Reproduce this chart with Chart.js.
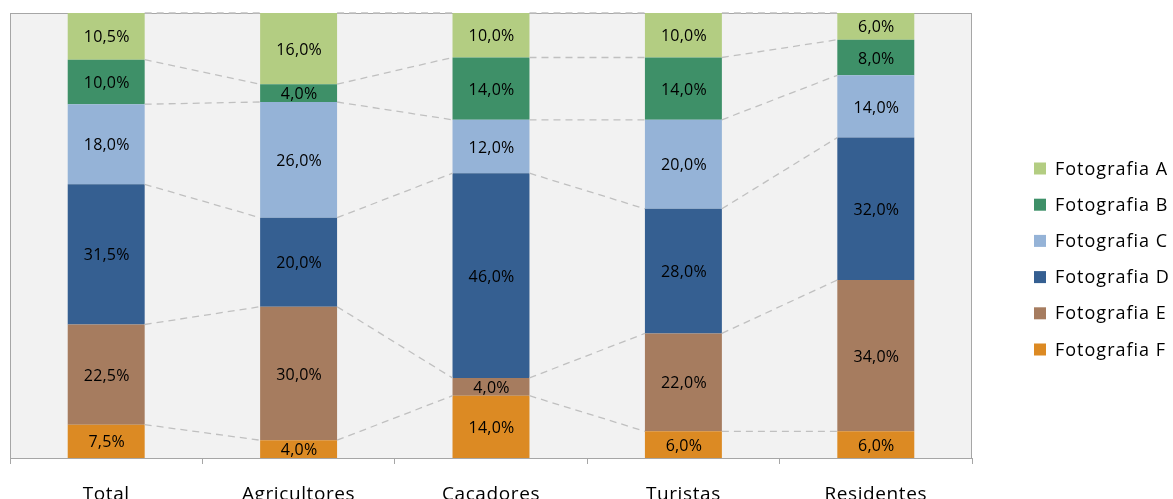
<!DOCTYPE html>
<html>
<head>
<meta charset="utf-8">
<script src="https://cdn.jsdelivr.net/npm/chart.js@4/dist/chart.umd.min.js"></script>
<style>
  html, body { margin: 0; padding: 0; background: #fff; }
  #wrap { width: 1173px; height: 499px; }
</style>
</head>
<body>
<div id="wrap"><canvas id="fotoChart"></canvas></div>
<script>
const categorias = ['Total', 'Agricultores', 'Caçadores', 'Turistas', 'Residentes'];
const fotoA = [10.5, 16, 10, 10, 6];
const fotoB = [10, 4, 14, 14, 8];
const fotoC = [18, 26, 12, 20, 14];
const fotoD = [31.5, 20, 46, 28, 32];
const fotoE = [22.5, 30, 4, 22, 34];
const fotoF = [7.5, 4, 14, 6, 6];

const FONT = "'Open Sans', sans-serif";

// stacked bottom to top: F, E, D, C, B, A
const series = [
  { label: 'Fotografia F', data: fotoF, color: '#dc8a23' },
  { label: 'Fotografia E', data: fotoE, color: '#a67c5f' },
  { label: 'Fotografia D', data: fotoD, color: '#355f91' },
  { label: 'Fotografia C', data: fotoC, color: '#95b3d7' },
  { label: 'Fotografia B', data: fotoB, color: '#3e9068' },
  { label: 'Fotografia A', data: fotoA, color: '#b3cd82' }
];

const fundo = {
  id: 'fundo',
  beforeDraw(chart) {
    const { ctx, chartArea: a } = chart;
    ctx.save();
    ctx.fillStyle = '#f2f2f2';
    ctx.fillRect(a.left, a.top, a.right - a.left, a.bottom - a.top);
    ctx.strokeStyle = '#a6a6a6';
    ctx.lineWidth = 1;
    ctx.strokeRect(a.left + 0.5, a.top + 0.5, a.right - a.left - 1, a.bottom - a.top);
    ctx.restore();
    ctx.letterSpacing = '0.6px';
  },
  beforeDatasetsDraw(chart) {
    chart.ctx.letterSpacing = '0px';
  }
};

const ligacoes = {
  id: 'ligacoes',
  afterDatasetsDraw(chart) {
    const ctx = chart.ctx;
    ctx.save();
    ctx.strokeStyle = '#c0c0c0';
    ctx.lineWidth = 1.3;
    ctx.setLineDash([7, 5]);
    chart.data.datasets.forEach((ds, i) => {
      const bars = chart.getDatasetMeta(i).data;
      for (let j = 0; j < bars.length - 1; j++) {
        const a = bars[j], b = bars[j + 1];
        ctx.beginPath();
        ctx.moveTo(a.x + a.width / 2, a.y);
        ctx.lineTo(b.x - b.width / 2, b.y);
        ctx.stroke();
      }
    });
    ctx.restore();
  }
};

const rotulos = {
  id: 'rotulos',
  afterDraw(chart) {
    const ctx = chart.ctx;
    ctx.save();
    ctx.font = '16px ' + FONT;
    ctx.letterSpacing = '0.2px';
    ctx.fillStyle = '#000';
    ctx.textAlign = 'center';
    ctx.textBaseline = 'middle';
    chart.data.datasets.forEach((ds, i) => {
      chart.getDatasetMeta(i).data.forEach((bar, j) => {
        const v = ds.data[j];
        const y = (bar.y + bar.base) / 2;
        ctx.fillText(v.toFixed(1).replace('.', ',') + '%', bar.x + 0.5, y + 1.5);
      });
    });
    // legend, A on top
    ctx.font = '18px ' + FONT;
    ctx.letterSpacing = '1px';
    const ordem = chart.data.datasets.slice().reverse();
    ordem.forEach((ds, k) => {
      const y = 168.5 + k * 36.2;
      ctx.fillStyle = ds.backgroundColor;
      ctx.fillRect(1034, y - 6, 12, 12);
      ctx.fillStyle = '#000';
      ctx.textAlign = 'left';
      ctx.fillText(ds.label, 1055, y + 1);
    });
    ctx.restore();
  }
};

new Chart(document.getElementById('fotoChart'), {
  type: 'bar',
  data: {
    labels: categorias,
    datasets: series.map(s => ({
      label: s.label,
      data: s.data,
      backgroundColor: s.color,
      borderWidth: 0,
      barPercentage: 0.4,
      categoryPercentage: 1
    }))
  },
  options: {
    responsive: true,
    maintainAspectRatio: false,
    animation: false,
    layout: { padding: { left: 10, right: 201, top: 13, bottom: 0 } },
    plugins: { legend: { display: false }, tooltip: { enabled: false } },
    scales: {
      x: {
        stacked: true,
        afterFit(scale) { scale.height = 41; },
        grid: { drawOnChartArea: false, drawTicks: true, tickLength: 6, color: '#a6a6a6', offset: true },
        border: { color: '#a6a6a6' },
        ticks: { color: '#000', padding: 19, font: { family: FONT, size: 19 } }
      },
      y: {
        stacked: true,
        display: false,
        min: 0,
        max: 100
      }
    }
  },
  plugins: [fundo, ligacoes, rotulos]
});
</script>
</body>
</html>
